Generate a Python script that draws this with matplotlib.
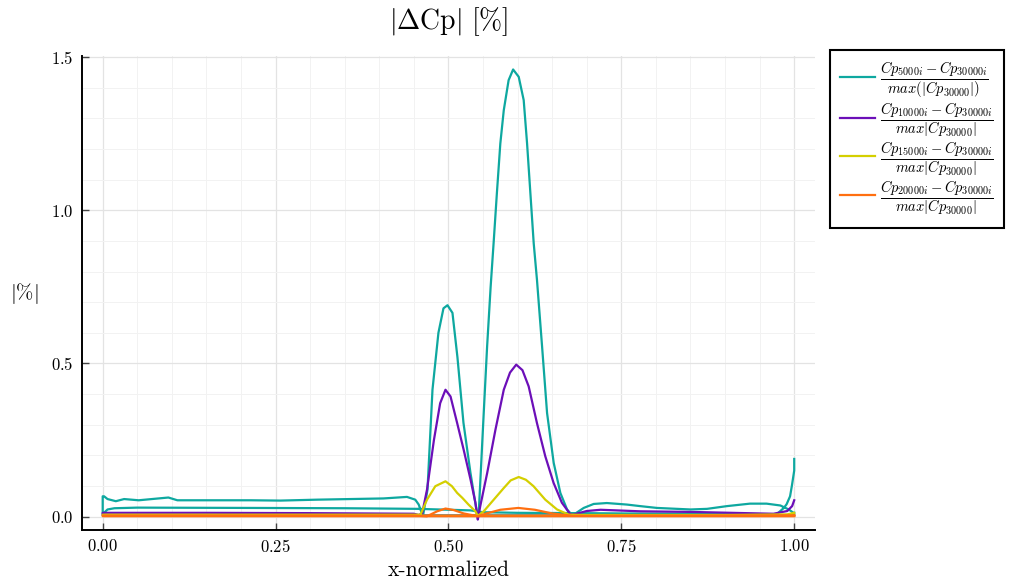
import matplotlib
matplotlib.use("Agg")
import matplotlib.pyplot as plt
from matplotlib.ticker import MultipleLocator

plt.rcParams.update({
    "font.family": "serif",
    "font.serif": ["cmr10", "DejaVu Serif"],
    "mathtext.fontset": "cm",
    "axes.formatter.use_mathtext": True,
    "axes.unicode_minus": False,
})

# data: each series is one path along the airfoil
# (trailing edge -> leading edge on one side, then back on the other side)

# Cp5000 vs Cp30000
x_5000 = [1.0, 0.999, 0.992, 0.98, 0.96, 0.936, 0.903, 0.874, 0.85, 0.8016, 0.777, 0.758, 0.729,
          0.71, 0.6956, 0.681, 0.679, 0.6715, 0.6618, 0.6522, 0.6426, 0.6354, 0.628, 0.6233,
          0.6185, 0.6137, 0.6088, 0.6016, 0.5935, 0.587, 0.580, 0.575, 0.570, 0.5655, 0.561,
          0.5559, 0.551, 0.5462, 0.5438, 0.542, 0.5318, 0.5217, 0.513, 0.5058, 0.4986, 0.4928,
          0.4855, 0.4769, 0.4697, 0.4635, 0.4605, 0.457, 0.452, 0.44, 0.406, 0.31, 0.257, 0.214,
          0.108, 0.095, 0.052, 0.031, 0.019, 0.007, 0.002, 0.0,
          0.0, 0.007, 0.017, 0.05, 0.214, 0.35, 0.455, 0.532, 0.55, 0.6, 0.69, 0.75, 0.85, 0.92,
          0.97, 0.975, 0.985, 0.989, 0.994, 0.9966, 1.0, 1.0]
y_5000 = [0.012, 0.012, 0.023, 0.036, 0.042, 0.042, 0.034, 0.025, 0.023, 0.028, 0.034, 0.039, 0.044,
          0.041, 0.028, 0.006, 0.004, 0.023, 0.077, 0.175, 0.338, 0.555, 0.773, 0.892,
          1.055, 1.218, 1.36, 1.436, 1.46, 1.425, 1.327, 1.218, 1.055, 0.90, 0.75,
          0.555, 0.338, 0.12, 0.013, 0.0, 0.143, 0.306, 0.52, 0.665, 0.69, 0.68,
          0.6, 0.414, 0.088, 0.006, 0.017, 0.039, 0.055, 0.064, 0.059, 0.055, 0.052, 0.053,
          0.053, 0.062, 0.053, 0.057, 0.05, 0.057, 0.066, 0.066,
          0.008, 0.023, 0.027, 0.029, 0.028, 0.027, 0.025, 0.02, 0.014, 0.012, 0.011, 0.01, 0.009, 0.008,
          0.007, 0.008, 0.028, 0.04, 0.066, 0.1, 0.15, 0.188]

# Cp10000 vs Cp30000
x_10000 = [1.0, 0.997, 0.99, 0.97, 0.93, 0.85, 0.777, 0.72, 0.70, 0.68, 0.676, 0.664, 0.652, 0.640,
           0.628, 0.616, 0.607, 0.598, 0.589, 0.580, 0.568, 0.556, 0.546, 0.5438, 0.5424, 0.539,
           0.532, 0.522, 0.5126, 0.503, 0.4957, 0.488, 0.479, 0.469, 0.462, 0.457, 0.45, 0.3, 0.15,
           0.0, 0.0, 0.25, 0.5, 0.75, 1.0]
y_10000 = [0.053, 0.034, 0.018, 0.009, 0.011, 0.015, 0.017, 0.022, 0.018, 0.006, 0.008, 0.045, 0.11, 0.197,
           0.305, 0.425, 0.478, 0.496, 0.47, 0.414, 0.284, 0.142, 0.034, 0.006, -0.01, 0.045,
           0.12, 0.218, 0.305, 0.392, 0.414, 0.37, 0.25, 0.088, 0.01, 0.005, 0.009, 0.011, 0.012,
           0.012, 0.004, 0.004, 0.004, 0.004, 0.004]

# Cp15000 vs Cp30000
x_15000 = [1.0, 0.99, 0.9, 0.8, 0.7, 0.674, 0.657, 0.640, 0.623, 0.612, 0.6016, 0.59, 0.580, 0.5655,
           0.551, 0.5424, 0.539, 0.529, 0.52, 0.5126, 0.505, 0.4957, 0.481, 0.469, 0.4595, 0.3, 0.15,
           0.0, 0.0, 0.5, 1.0]
y_15000 = [0.012, 0.007, 0.005, 0.005, 0.005, 0.006, 0.023, 0.055, 0.099, 0.12, 0.129, 0.118, 0.093, 0.055,
           0.017, 0.002, 0.017, 0.039, 0.061, 0.077, 0.099, 0.115, 0.099, 0.055, 0.006, 0.006, 0.006,
           0.006, 0.003, 0.003, 0.003]

# Cp20000 vs Cp30000
x_20000 = [1.0, 0.9, 0.8, 0.68, 0.65, 0.625, 0.601, 0.575, 0.555, 0.5424, 0.522, 0.5077, 0.4957,
           0.4837, 0.469, 0.45, 0.3, 0.0,
           0.0, 0.5, 1.0]
y_20000 = [0.004, 0.003, 0.003, 0.002, 0.01, 0.022, 0.028, 0.022, 0.01, 0.001, 0.01, 0.021, 0.026,
           0.017, 0.001, 0.003, 0.003, 0.003,
           0.001, 0.001, 0.001]

labels = [
    r'$\frac{Cp_{5000i}-Cp_{30000i}}{max(|Cp_{30000}|)}$',
    r'$\frac{Cp_{10000i}-Cp_{30000i}}{max|Cp_{30000}|}$',
    r'$\frac{Cp_{15000i}-Cp_{30000i}}{max|Cp_{30000}|}$',
    r'$\frac{Cp_{20000i}-Cp_{30000i}}{max|Cp_{30000}|}$',
]
colors = ['#0ea8a0', '#6c0fb8', '#d4cf00', '#ff6f10']

fig = plt.figure(figsize=(10.13, 5.84), dpi=100)
ax = fig.add_axes([0.0809, 0.0925, 0.7236, 0.8116])

series = [(x_5000, y_5000), (x_10000, y_10000), (x_15000, y_15000), (x_20000, y_20000)]
for (xs, ys), lab, c in zip(series, labels, colors):
    ax.plot(xs, ys, color=c, linewidth=1.6, label=lab)

ax.set_xlim(-0.03, 1.03)
ax.set_ylim(-0.044, 1.504)

ax.xaxis.set_major_locator(MultipleLocator(0.25))
ax.xaxis.set_minor_locator(MultipleLocator(0.05))
ax.yaxis.set_major_locator(MultipleLocator(0.5))
ax.yaxis.set_minor_locator(MultipleLocator(0.1))

ax.grid(True, which='major', color='#e3e3e3', linewidth=0.9)
ax.grid(True, which='minor', color='#f2f2f2', linewidth=0.7)
ax.set_axisbelow(True)

for s in ['top', 'right']:
    ax.spines[s].set_visible(False)
for s in ['left', 'bottom']:
    ax.spines[s].set_linewidth(1.4)
    ax.spines[s].set_color('black')

ax.tick_params(which='major', direction='in', length=5, width=1, color='#444444',
               labelsize=12, pad=6)
ax.tick_params(which='minor', length=0)

fig.text(448.5 / 1013, 1 - 22 / 584, r'$|\Delta\mathrm{Cp}|\ [\%]$', ha='center', va='center',
         fontsize=20)
fig.text(24 / 1013, 1 - 293 / 584, r'$|\%|$', ha='center', va='center', fontsize=15)
fig.text(448.5 / 1013, 1 - 570 / 584, 'x-normalized', ha='center', va='center', fontsize=15.5)

leg = ax.legend(loc='upper left', bbox_to_anchor=(830 / 1013, 1 - 50 / 584),
                bbox_transform=fig.transFigure, borderaxespad=0, fancybox=False,
                edgecolor='black', fontsize=15, handlelength=1.65, handletextpad=0.25,
                labelspacing=0.05, borderpad=0.5, framealpha=1)
leg.get_frame().set_linewidth(1.5)

fig.savefig('out.png', dpi=100)
